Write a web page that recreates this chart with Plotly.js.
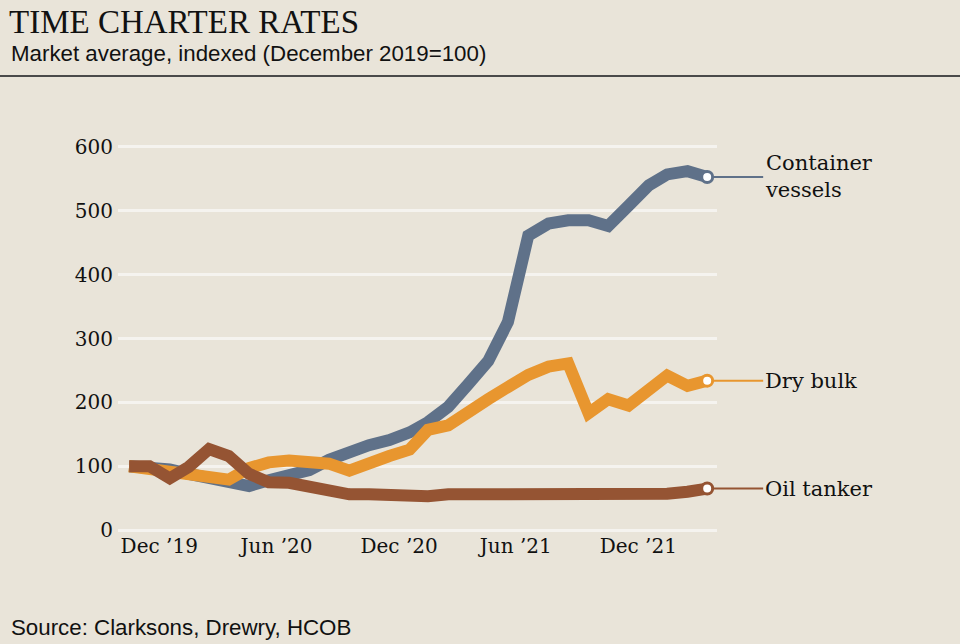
<!DOCTYPE html>
<html>
<head>
<meta charset="utf-8">
<script src="https://cdn.plot.ly/plotly-3.0.1.min.js"></script>
<style>
  html, body { margin: 0; padding: 0; background: #e9e4d9; }
  #chart { width: 960px; height: 644px; }
</style>
</head>
<body>
<div id="chart"></div>
<script>
// ---- Data ----
const months = [
  '2019-12-01','2020-01-01','2020-02-01','2020-03-01','2020-04-01','2020-05-01',
  '2020-06-01','2020-07-01','2020-08-01','2020-09-01','2020-10-01','2020-11-01',
  '2020-12-01','2021-01-01','2021-02-01','2021-03-01','2021-04-01','2021-05-01',
  '2021-06-01','2021-07-01','2021-08-01','2021-09-01','2021-10-01','2021-11-01',
  '2021-12-01','2022-01-01','2022-02-01','2022-03-01','2022-04-01','2022-05-01'
];
const containerVessels = [100, 98, 95, 88, 80, 73, 69, 78, 88, 94, 110, 124,
                          133, 141, 153, 169, 193, 228, 265, 326, 461, 480,
                          485, 485, 476, 508, 540, 557, 562, 553];
const dryBulk = [100, 95, 92, 88, 85, 79, 97, 106, 109, 105, 104, 93,
                 102, 116, 126, 157, 164, 186, 205, 224, 243, 256,
                 261, 183, 205, 195, 219, 242, 226, 234];
const oilTanker = [100, 100, 81, 99, 127, 116, 88, 75, 74, 69, 62, 56,
                   56, 54, 53, 53, 56, 56, 54, 53, 53, 53,
                   53, 56, 56, 56, 54, 57, 60, 65];

const seriesNames = ['Container<br>vessels', 'Dry bulk', 'Oil tanker'];
const xTickDates = ['2019-12-01','2020-06-01','2020-12-01','2021-06-01','2021-12-01'];
const xTickText = ['Dec ’19','Jun ’20','Dec ’20','Jun ’21','Dec ’21'];
const yTickVals = [0, 100, 200, 300, 400, 500, 600];
const yTickText = ['0', '100', '200', '300', '400', '500', '600'];

// ---- Styles ----
const BG = '#e9e4d9';
const GRID = '#f5f3ef';
const INK = '#111111';
const colors = ['#5f7189', '#e8962f', '#955433'];
const seriesData = [containerVessels, dryBulk, oilTanker];

// layout geometry
const W = 960, H = 644;
const M = { l: 118, r: 243, t: 145, b: 112 };
const plotH = H - M.t - M.b;
const plotW = W - M.l - M.r;
const py = px => (H - M.b - px) / plotH;   // pixel y -> paper y
const pxX = px => (px - M.l) / plotW;      // pixel x -> paper x

// shift tick label anchor a little to the left of the tick
function shiftDays(iso, d) {
  const t = new Date(iso + 'T00:00:00Z');
  t.setUTCDate(t.getUTCDate() + d);
  return t.toISOString().slice(0, 10);
}
const tickPos = xTickDates.map(d => shiftDays(d, -13));

const traces = [];
seriesData.forEach((ys, i) => {
  traces.push({
    x: months, y: ys, type: 'scatter', mode: 'lines',
    line: { color: colors[i], width: 12, shape: 'linear' },
    hoverinfo: 'skip'
  });
});
seriesData.forEach((ys, i) => {
  traces.push({
    x: [months[months.length - 1]], y: [ys[ys.length - 1]],
    type: 'scatter', mode: 'markers',
    marker: { size: 11, color: '#ffffff', line: { color: colors[i], width: 3 } },
    hoverinfo: 'skip'
  });
});

const annotations = seriesData.map((ys, i) => ({
  x: months[months.length - 1], y: ys[ys.length - 1],
  xref: 'x', yref: 'y',
  text: seriesNames[i],
  showarrow: true, arrowhead: 0, arrowwidth: 2, arrowcolor: colors[i],
  ax: 56, ay: 0, standoff: 5,
  xanchor: 'left', yanchor: 'middle', align: 'left',
  font: { family: 'DejaVu Serif', size: 21, color: INK }
}));

annotations.push({
  xref: 'paper', yref: 'paper', x: pxX(9), y: py(54),
  xanchor: 'left', yanchor: 'middle', showarrow: false,
  text: 'Market average, indexed (December 2019=100)',
  font: { family: 'Liberation Sans', size: 22.3, color: INK }
});
annotations.push({
  xref: 'paper', yref: 'paper', x: pxX(9), y: py(627),
  xanchor: 'left', yanchor: 'middle', showarrow: false,
  text: 'Source: Clarksons, Drewry, HCOB',
  font: { family: 'Liberation Sans', size: 22.3, color: INK }
});

const layout = {
  width: W, height: H,
  paper_bgcolor: BG, plot_bgcolor: BG,
  margin: M,
  showlegend: false,
  title: {
    text: 'TIME CHARTER RATES',
    font: { family: 'Liberation Serif', size: 33, color: INK },
    x: 9 / W, xanchor: 'left', xref: 'container',
    y: 1 - 10 / H, yanchor: 'top', yref: 'container'
  },
  xaxis: {
    type: 'date',
    range: ['2019-11-14', '2022-05-16'],
    tickmode: 'array', tickvals: tickPos, ticktext: xTickText,
    ticklabelposition: 'outside right',
    showgrid: false, zeroline: false, showline: false, ticks: '',
    tickfont: { family: 'DejaVu Serif', size: 20, color: INK },
    fixedrange: true
  },
  yaxis: {
    range: [-3, 603],
    tickmode: 'array', tickvals: yTickVals, ticktext: yTickText,
    showgrid: true, gridcolor: GRID, gridwidth: 3,
    zeroline: false, showline: false, ticks: '',
    ticklabelstandoff: 4,
    tickfont: { family: 'DejaVu Serif', size: 20, color: INK },
    fixedrange: true
  },
  shapes: [{
    type: 'line', xref: 'paper', yref: 'paper',
    x0: pxX(0), x1: pxX(W), y0: py(76), y1: py(76),
    line: { color: '#4a4a4a', width: 2 }
  }],
  annotations: annotations
};

Plotly.newPlot('chart', traces, layout, { staticPlot: true, displayModeBar: false });
</script>
</body>
</html>
